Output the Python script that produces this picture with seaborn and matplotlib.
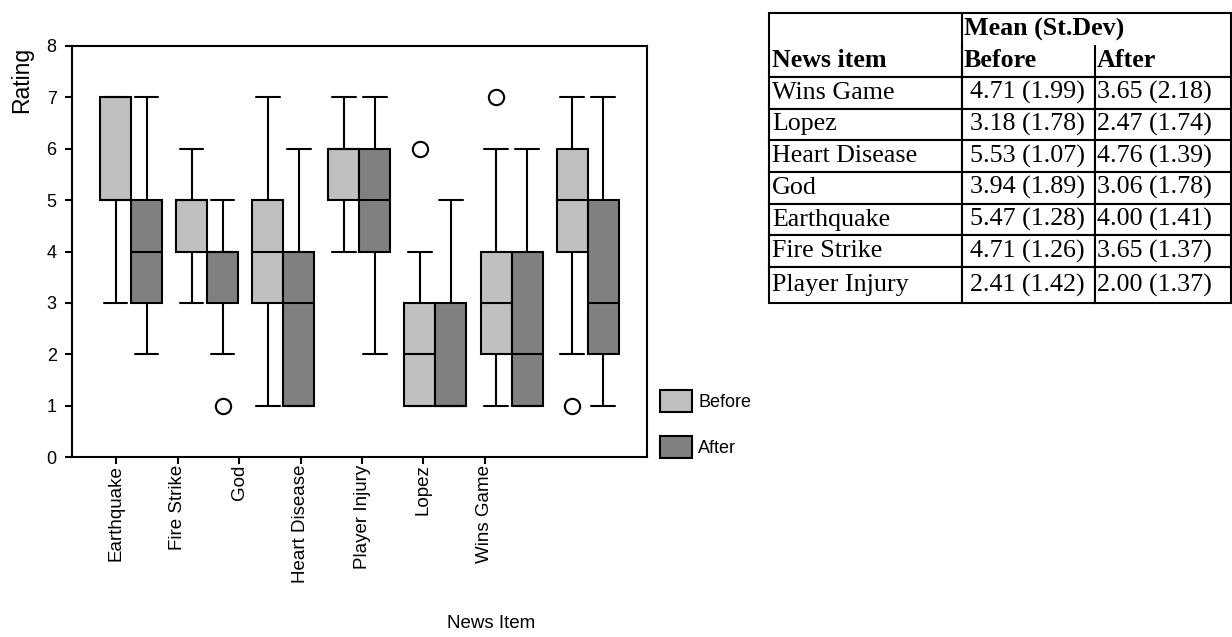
import numpy as np
import pandas as pd
import matplotlib.pyplot as plt
import seaborn as sns

sns.set_style('ticks')
plt.rcParams['font.family'] = ['Liberation Sans', 'DejaVu Sans']
plt.rcParams['text.color'] = 'black'
plt.rcParams['axes.labelcolor'] = 'black'

items = ['Earthquake', 'Fire Strike', 'God', 'Heart Disease',
         'Player Injury', 'Lopez', 'Wins Game']
periods = ['Before', 'After']

# 17 ratings per item, read back from the boxes (and matched to the table means)
before_ratings = {
    'Earthquake':    [3, 4, 5, 5, 5, 5, 5, 5, 5, 5, 5, 6, 7, 7, 7, 7, 7],
    'Fire Strike':   [3, 3, 4, 4, 4, 5, 5, 5, 5, 5, 5, 5, 5, 5, 5, 6, 6],
    'God':           [1, 1, 2, 3, 3, 3, 4, 4, 4, 4, 5, 5, 5, 5, 5, 6, 7],
    'Heart Disease': [4, 4, 5, 5, 5, 5, 5, 5, 6, 6, 6, 6, 6, 6, 6, 7, 7],
    'Player Injury': [1, 1, 1, 1, 1, 1, 2, 2, 2, 2, 3, 3, 3, 4, 4, 4, 6],
    'Lopez':         [1, 1, 2, 2, 2, 2, 3, 3, 3, 3, 3, 4, 4, 4, 4, 6, 7],
    'Wins Game':     [1, 2, 3, 4, 4, 4, 5, 5, 5, 5, 5, 6, 6, 6, 6, 6, 7],
}
after_ratings = {
    'Earthquake':    [2, 2, 3, 3, 3, 3, 4, 4, 4, 4, 4, 5, 5, 5, 5, 5, 7],
    'Fire Strike':   [1, 2, 3, 3, 3, 3, 3, 4, 4, 4, 4, 4, 4, 5, 5, 5, 5],
    'God':           [1, 1, 1, 1, 1, 2, 3, 3, 3, 3, 4, 4, 4, 5, 5, 5, 6],
    'Heart Disease': [2, 3, 3, 4, 4, 4, 4, 5, 5, 5, 5, 5, 6, 6, 6, 7, 7],
    'Player Injury': [1, 1, 1, 1, 1, 1, 1, 1, 1, 1, 2, 3, 3, 3, 4, 4, 5],
    'Lopez':         [1, 1, 1, 1, 1, 1, 2, 2, 2, 2, 3, 3, 4, 4, 4, 4, 6],
    'Wins Game':     [1, 1, 2, 2, 2, 2, 3, 3, 3, 4, 4, 5, 5, 6, 6, 6, 7],
}

# table on the right
table_items = ['Wins Game', 'Lopez', 'Heart Disease', 'God',
               'Earthquake', 'Fire Strike', 'Player Injury']
table_before = ['4.71 (1.99)', '3.18 (1.78)', '5.53 (1.07)', '3.94 (1.89)',
                '5.47 (1.28)', '4.71 (1.26)', '2.41 (1.42)']
table_after = ['3.65 (2.18)', '2.47 (1.74)', '4.76 (1.39)', '3.06 (1.78)',
               '4.00 (1.41)', '3.65 (1.37)', '2.00 (1.37)']

rows = []
for item in items:
    for p, src in zip(periods, [before_ratings, after_ratings]):
        for r in src[item]:
            rows.append((item, p, r))
df = pd.DataFrame(rows, columns=['News Item', 'Period', 'Rating'])

W, H = 1232, 637
fig = plt.figure(figsize=(W / 100, H / 100), dpi=100)
ax = fig.add_axes([72 / W, 1 - 457 / H, 575 / W, 411 / H])

sns.boxplot(data=df, x='News Item', y='Rating', hue='Period',
            order=items, hue_order=periods,
            palette={'Before': '#c0c0c0', 'After': '#808080'},
            saturation=1, width=0.815, gap=0, whis=1.4,
            linecolor='black', linewidth=1.5, fliersize=11,
            flierprops=dict(marker='o', markerfacecolor='white',
                            markeredgecolor='black', markeredgewidth=1.5),
            capwidths=0.31, ax=ax)

ax.set_xlim(-0.776, 6.78)
ax.set_ylim(0, 8)
# SPSS puts the category ticks on a different spacing than the box pairs
tick_pos = -0.197 + 0.808 * np.arange(len(items))
ax.set_xticks(tick_pos, items, rotation=90)
ax.set_yticks(range(9))
for s in ax.spines.values():
    s.set_visible(True)
    s.set_linewidth(1.5)
    s.set_color('black')
ax.tick_params(direction='out', length=5, width=1.5, colors='black',
               labelsize=13)
ax.tick_params(axis='x', pad=0.5, labelsize=13.5)
ax.tick_params(axis='y', pad=6)

ax.set_ylabel('Rating', fontsize=16.5, loc='top')
ax.yaxis.set_label_coords(-0.068, 0.997)
ax.set_xlabel('News Item', fontsize=13.5)
ax.xaxis.set_label_coords(0.729, -0.385)

leg = ax.get_legend()
handles = leg.legend_handles
labels = [t.get_text() for t in leg.get_texts()]
ax.legend(handles, labels, loc='lower left',
          bbox_to_anchor=(660 / W, 1 - 458 / H), bbox_transform=fig.transFigure,
          frameon=False, borderpad=0, borderaxespad=0,
          handlelength=1.78, handleheight=1.5, labelspacing=1.35,
          handletextpad=0.35, fontsize=13, labelcolor='black')

# the mean / sd table
ax_t = fig.add_axes([769 / W, 1 - 303 / H, 462 / W, 290 / H])
ax_t.axis('off')
cell_text = [['', 'Mean (St.Dev)', ''], ['News item', 'Before', 'After']]
cell_text += [[a, b, c] for a, b, c in zip(table_items, table_before, table_after)]
col_w = [193, 133, 136]
row_h = [32, 32] + [31.7] * 6 + [36]
tbl = ax_t.table(cellText=cell_text, cellLoc='left', colWidths=col_w,
                 bbox=[0, 0, 1, 1])
tbl.auto_set_font_size(False)
header_edges = {(0, 0): 'LTR', (0, 1): 'T', (0, 2): 'TR',
                (1, 0): 'LRB', (1, 1): 'LRB', (1, 2): 'RB'}
for (r, c), cell in tbl.get_celld().items():
    cell.set_height(row_h[r])
    cell.set_width(col_w[c])
    cell.set_linewidth(1.5)
    cell.set_edgecolor('black')
    cell.PAD = 0.06 if (c == 1 and r > 1) else 0.015
    txt = cell.get_text()
    txt.set_fontfamily('Liberation Serif')
    txt.set_fontsize(18.7)
    txt.set_color('black')
    if r < 2:
        txt.set_fontweight('bold')
        cell.visible_edges = header_edges[(r, c)]
    else:
        cell.visible_edges = 'closed'

fig.savefig('out.png', dpi=100)
